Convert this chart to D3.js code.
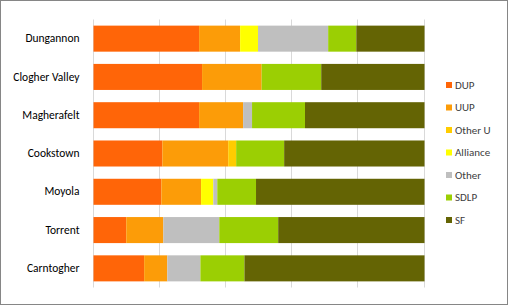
<!DOCTYPE html>
<html><head><meta charset="utf-8">
<script src="https://cdnjs.cloudflare.com/ajax/libs/d3/7.8.5/d3.min.js"></script>
<style>body{margin:0;background:#fff}svg{display:block}</style>
</head><body><svg id="c" width="508" height="305"></svg>
<script>
const categories = ["Dungannon","Clogher Valley","Magherafelt","Cookstown","Moyola","Torrent","Carntogher"];
const seriesNames = ["DUP","UUP","Other U","Alliance","Other","SDLP","SF"];
const DUP      = [31.9, 32.8, 31.9, 20.8, 20.5,  9.9, 15.3];
const UUP      = [12.4, 18.0, 13.3, 19.9, 12.0, 11.2,  7.0];
const OtherU   = [ 0,    0,    0,    2.4,  0,    0,    0  ];
const Alliance = [ 5.4,  0,    0,    0,    3.7,  0,    0  ];
const Other    = [21.2,  0,    2.7,  0,    1.2, 16.9, 10.0];
const SDLP     = [ 8.5, 18.0, 16.0, 14.5, 11.7, 17.8, 13.3];
const SF       = [20.6, 31.2, 36.1, 42.4, 50.9, 44.2, 54.4];
const xTicks   = [0, 0.2, 0.4, 0.6, 0.8, 1];
const colors   = ["#FF6508","#FC9C08","#FFCC00","#FFFF00","#BFBFBF","#9BCF03","#646404"];

const seriesVals = [DUP, UUP, OtherU, Alliance, Other, SDLP, SF];
const rows = categories.map((c,i)=>{const r={cat:c}; seriesNames.forEach((s,j)=>r[s]=seriesVals[j][i]); return r;});
const stack = d3.stack().keys(seriesNames).offset(d3.stackOffsetExpand)(rows);

const svg = d3.select("#c");
const font = "Calibri, Carlito, 'Liberation Sans', Arial, sans-serif";
svg.append("rect").attr("x",0.5).attr("y",0.5).attr("width",507).attr("height",304)
  .attr("fill","#fff").attr("stroke","#868686");

const x = d3.scaleLinear().domain([0,1]).range([93.5,424.5]);
const y = d3.scaleBand().domain(categories).range([19.5,287.5]).paddingInner(0.32).paddingOuter(0.16);

svg.append("g").selectAll("line").data(xTicks).join("line")
  .attr("x1",d=>Math.round(x(d))-0.5).attr("x2",d=>Math.round(x(d))-0.5)
  .attr("y1",19.5).attr("y2",287.5).attr("stroke","#D9D9D9").attr("stroke-width",1);

svg.append("g").selectAll("g").data(stack).join("g")
  .attr("fill",(d,i)=>colors[i])
  .selectAll("rect").data(d=>d).join("rect")
  .attr("x",d=>x(d[0])).attr("width",d=>x(d[1])-x(d[0]))
  .attr("y",d=>y(d.data.cat)).attr("height",y.bandwidth());

const yAxis = svg.append("g").attr("transform","translate(93.5,0)")
  .call(d3.axisLeft(y).tickSize(0).tickPadding(14));
yAxis.select(".domain").remove();
yAxis.selectAll("text").attr("font-family",font).attr("font-size",11.5).attr("fill","#000");

const leg = svg.append("g").selectAll("g").data(seriesNames).join("g")
  .attr("transform",(d,i)=>`translate(446,${85 + i*22.5})`);
leg.append("rect").attr("x",0).attr("y",-3).attr("width",6).attr("height",6).attr("fill",(d,i)=>colors[i]);
leg.append("text").attr("x",9).attr("y",0).attr("dy","0.35em").text(d=>d)
  .attr("font-family",font).attr("font-size",11).attr("fill","#404040");
</script></body></html>
